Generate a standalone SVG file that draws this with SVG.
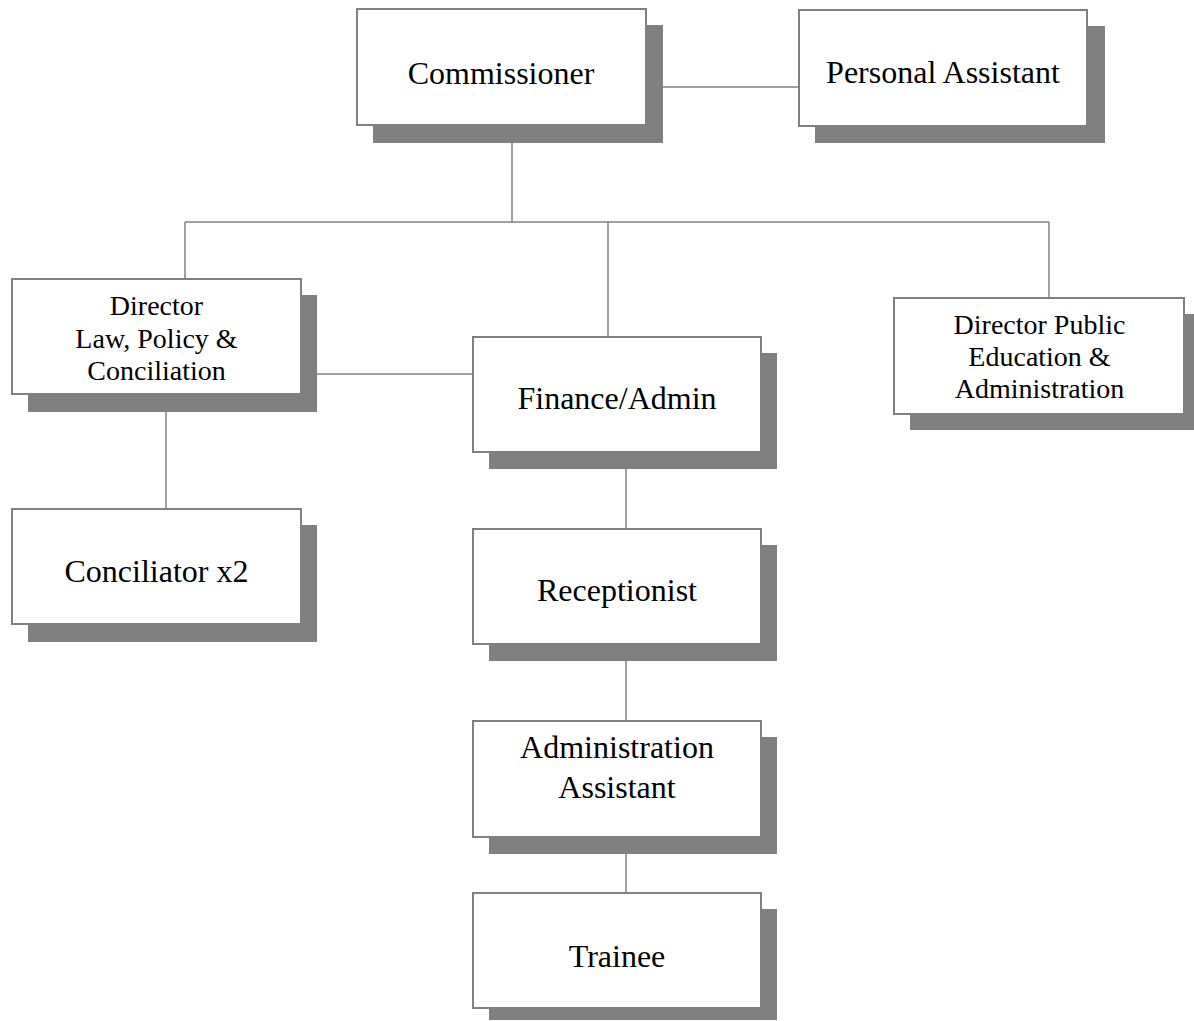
<svg xmlns="http://www.w3.org/2000/svg" width="1194" height="1021" viewBox="0 0 1194 1021">
<style>
.sh{fill:#808080;stroke:none}
.bx{fill:#ffffff;stroke:#808080;stroke-width:2}
.ln{stroke:#808080;stroke-width:1.5;fill:none}
.t{font-family:"Liberation Serif","Times New Roman",serif;font-size:32px;fill:#000;text-anchor:middle}
.s{font-size:28px}
</style>
<rect width="1194" height="1021" fill="#ffffff"/>
<g id="connectors">
<line class="ln" x1="646" y1="87" x2="799" y2="87"/>
<line class="ln" x1="512" y1="125" x2="512" y2="222"/>
<line class="ln" x1="185" y1="222" x2="1049" y2="222"/>
<line class="ln" x1="185" y1="222" x2="185" y2="279"/>
<line class="ln" x1="608" y1="222" x2="608" y2="337"/>
<line class="ln" x1="1049" y1="222" x2="1049" y2="298"/>
<line class="ln" x1="317" y1="374" x2="473" y2="374"/>
<line class="ln" x1="166" y1="394" x2="166" y2="509"/>
<line class="ln" x1="626" y1="452" x2="626" y2="529"/>
<line class="ln" x1="626" y1="644" x2="626" y2="721"/>
<line class="ln" x1="626" y1="837" x2="626" y2="893"/>
</g>
<g id="commissioner">
<rect class="sh" x="373" y="25" width="290" height="118"/>
<rect class="bx" x="357" y="9" width="289" height="116"/>
<text class="t" x="501" y="84">Commissioner</text>
</g>
<g id="personal-assistant">
<rect class="sh" x="815" y="26" width="290" height="117"/>
<rect class="bx" x="799" y="10" width="288" height="116"/>
<text class="t" x="943" y="83">Personal Assistant</text>
</g>
<g id="director-law">
<rect class="sh" x="28" y="295" width="289" height="117"/>
<rect class="bx" x="12" y="279" width="289" height="115"/>
<text class="t s" x="156.5" y="315">Director</text>
<text class="t s" x="156.5" y="348">Law, Policy &amp;</text>
<text class="t s" x="156.5" y="380">Conciliation</text>
</g>
<g id="finance-admin">
<rect class="sh" x="489" y="353" width="288" height="116"/>
<rect class="bx" x="473" y="337" width="288" height="115"/>
<text class="t" x="617" y="409">Finance/Admin</text>
</g>
<g id="director-public">
<rect class="sh" x="910" y="314" width="290" height="116"/>
<rect class="bx" x="894" y="298" width="290" height="116"/>
<text class="t s" x="1039.5" y="334">Director Public</text>
<text class="t s" x="1039.5" y="366">Education &amp;</text>
<text class="t s" x="1039.5" y="398">Administration</text>
</g>
<g id="conciliator">
<rect class="sh" x="28" y="525" width="289" height="117"/>
<rect class="bx" x="12" y="509" width="289" height="115"/>
<text class="t" x="156.5" y="582">Conciliator x2</text>
</g>
<g id="receptionist">
<rect class="sh" x="489" y="545" width="288" height="116"/>
<rect class="bx" x="473" y="529" width="288" height="115"/>
<text class="t" x="617" y="601">Receptionist</text>
</g>
<g id="administration-assistant">
<rect class="sh" x="489" y="737" width="288" height="117"/>
<rect class="bx" x="473" y="721" width="288" height="116"/>
<text class="t" x="617" y="758">Administration</text>
<text class="t" x="617" y="798">Assistant</text>
</g>
<g id="trainee">
<rect class="sh" x="489" y="909" width="288" height="111"/>
<rect class="bx" x="473" y="893" width="288" height="115"/>
<text class="t" x="617" y="967">Trainee</text>
</g>
</svg>
